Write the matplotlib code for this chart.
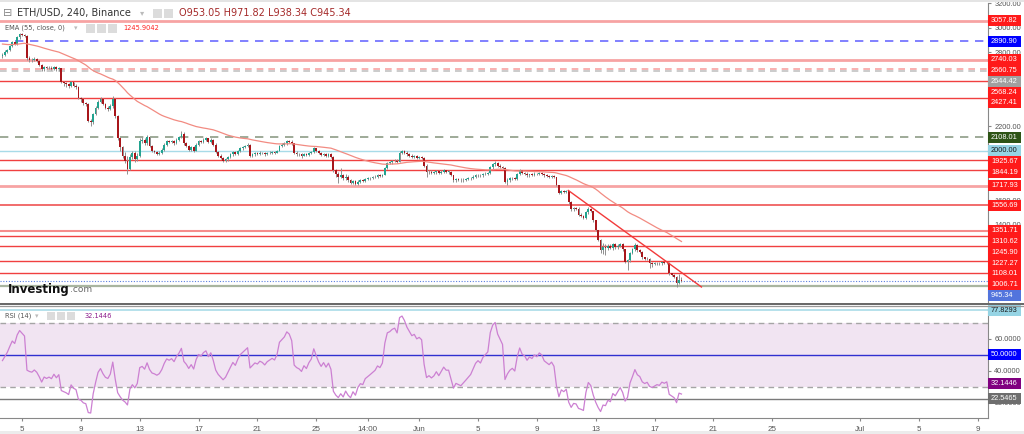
import numpy as np
import matplotlib.pyplot as plt
from matplotlib.patches import Rectangle
from matplotlib.lines import Line2D

# ETH/USD 4h bars (Binance), May 3 16:00 -> Jun 18 20:00
FIRST_OPEN = 2770
CLOSE = [
    2780, 2800,
    2820, 2850, 2880, 2870, 2920, 2950,   # May 4
    2940, 2930, 2750, 2740, 2735, 2745,
    2730, 2700, 2660, 2680, 2670, 2675,
    2665, 2680, 2660, 2670, 2560, 2550,
    2540, 2525, 2555, 2530, 2520, 2430,
    2420, 2390, 2380, 2240, 2230, 2300,   # May 9
    2350, 2400, 2420, 2380, 2350, 2340,
    2360, 2420, 2280, 2100, 2030, 1960,
    1920, 1850, 1950, 1980, 1930, 1960,
    2080, 2090, 2060, 2110, 2040, 2000,
    1990, 1975, 1985, 2010, 2050, 2080,   # May 14
    2070, 2080, 2060, 2090, 2110, 2140,
    2060, 2040, 2010, 2030, 2000, 2050,
    2080, 2070, 2090, 2100, 2070, 2090,
    2050, 1990, 1960, 1940, 1920, 1930,
    1950, 1970, 1990, 1975, 2000, 2020,   # May 19
    2030, 2040, 2050, 1960, 1970, 1980,
    1975, 1985, 1980, 1970, 1980, 1985,
    1990, 1985, 2000, 2040, 2050, 2060,
    2080, 2075, 2060, 1985, 1975, 1970,
    1960, 1975, 1965, 1980, 1990, 2020,   # May 24
    2000, 1980, 1965, 1975, 1960, 1970,
    1950, 1840, 1810, 1790, 1800, 1775,
    1790, 1760, 1740, 1755, 1730, 1750,
    1760, 1755, 1770, 1775, 1780, 1785,
    1790, 1800, 1795, 1805, 1860, 1900,   # May 29
    1905, 1915, 1920, 1910, 1985, 1995,
    1985, 1970, 1960, 1950, 1955, 1945,
    1950, 1945, 1880, 1825, 1830, 1820,   # Jun 1
    1825, 1835, 1820, 1830, 1840, 1830,
    1830, 1800, 1760, 1770, 1765, 1760,
    1765, 1770, 1775, 1780, 1790, 1800,
    1805, 1800, 1810, 1815, 1820, 1865,   # Jun 5
    1890, 1900, 1880, 1870, 1860, 1750,
    1765, 1775, 1780, 1770, 1810, 1840,
    1820, 1815, 1800, 1810, 1805, 1815,
    1810, 1820, 1815, 1800, 1795, 1790,
    1795, 1785, 1720, 1660, 1675, 1665,   # Jun 10
    1670, 1580, 1525, 1535, 1530, 1480,
    1470, 1455, 1500, 1530, 1510, 1435,
    1355, 1275, 1195, 1220, 1210, 1230,
    1210, 1240, 1215, 1230, 1245, 1200,
    1095, 1110, 1170, 1200, 1235, 1195,   # Jun 15
    1180, 1135, 1120, 1125, 1090, 1080,
    1085, 1090, 1085, 1095, 1088, 1092,
    1005, 990, 975, 925, 953.05, 945.34,
]
HIGH = [
    2795, 2815,
    2830, 2860, 2895, 2890, 2930, 2960,
    2955, 2950, 2940, 2770, 2755, 2760,
    2755, 2740, 2705, 2690, 2690, 2685,
    2685, 2690, 2690, 2680, 2675, 2570,
    2560, 2550, 2565, 2560, 2540, 2525,
    2440, 2430, 2400, 2385, 2260, 2310,
    2360, 2410, 2440, 2430, 2390, 2360,
    2380, 2445, 2430, 2290, 2110, 2040,
    1990, 1960, 1970, 2000, 2000, 1980,
    2100, 2110, 2100, 2125, 2115, 2050,
    2010, 1995, 1995, 2020, 2060, 2090,
    2090, 2090, 2085, 2100, 2120, 2160,
    2150, 2070, 2050, 2040, 2040, 2060,
    2090, 2090, 2100, 2115, 2105, 2100,
    2095, 2060, 2000, 1970, 1950, 1940,
    1960, 1980, 2000, 2000, 2010, 2030,
    2040, 2050, 2065, 2055, 1980, 1990,
    1990, 1995, 1990, 1990, 1990, 1995,
    2000, 1995, 2010, 2045, 2060, 2070,
    2090, 2090, 2085, 2065, 1995, 1985,
    1980, 1985, 1980, 1990, 2000, 2030,
    2025, 2010, 1990, 1985, 1980, 1980,
    1980, 1955, 1850, 1830, 1860, 1810,
    1810, 1800, 1770, 1765, 1760, 1760,
    1770, 1770, 1780, 1785, 1790, 1795,
    1800, 1810, 1810, 1815, 1870, 1910,
    1915, 1925, 1930, 1930, 1995, 2010,
    2005, 1995, 1980, 1970, 1965, 1965,
    1960, 1960, 1950, 1890, 1845, 1840,
    1835, 1845, 1840, 1840, 1850, 1845,
    1840, 1835, 1805, 1780, 1780, 1775,
    1775, 1780, 1785, 1790, 1800, 1810,
    1815, 1815, 1820, 1825, 1830, 1875,
    1900, 1915, 1905, 1890, 1880, 1865,
    1775, 1790, 1790, 1790, 1820, 1850,
    1845, 1830, 1825, 1815, 1820, 1825,
    1820, 1830, 1830, 1820, 1810, 1805,
    1805, 1800, 1790, 1725, 1685, 1685,
    1680, 1675, 1590, 1545, 1545, 1540,
    1495, 1480, 1510, 1545, 1535, 1515,
    1440, 1360, 1280, 1250, 1240, 1245,
    1240, 1250, 1250, 1240, 1255, 1250,
    1205, 1120, 1175, 1210, 1250, 1240,
    1200, 1185, 1140, 1135, 1130, 1100,
    1095, 1100, 1095, 1100, 1098, 1100,
    1095, 1010, 1000, 985, 1000, 971.82,
]
LOW = [
    2755, 2770,
    2790, 2810, 2840, 2855, 2860, 2910,
    2930, 2920, 2740, 2720, 2720, 2730,
    2720, 2690, 2645, 2650, 2660, 2660,
    2655, 2655, 2650, 2650, 2550, 2530,
    2520, 2510, 2515, 2520, 2505, 2420,
    2400, 2375, 2365, 2230, 2200, 2220,
    2290, 2340, 2390, 2370, 2340, 2320,
    2330, 2350, 2270, 2090, 2000, 1940,
    1900, 1815, 1840, 1930, 1910, 1920,
    1950, 2060, 2050, 2050, 2030, 1990,
    1980, 1965, 1965, 1975, 2000, 2040,
    2060, 2060, 2050, 2055, 2080, 2100,
    2050, 2030, 2000, 2000, 1990, 1995,
    2040, 2060, 2060, 2080, 2060, 2060,
    2040, 1980, 1950, 1930, 1905, 1910,
    1920, 1940, 1960, 1965, 1965, 1990,
    2010, 2020, 2030, 1950, 1950, 1960,
    1965, 1965, 1970, 1960, 1965, 1970,
    1975, 1975, 1980, 1995, 2030, 2040,
    2050, 2065, 2050, 1975, 1960, 1955,
    1945, 1955, 1955, 1960, 1970, 1985,
    1990, 1970, 1955, 1960, 1950, 1950,
    1940, 1830, 1790, 1740, 1780, 1765,
    1765, 1750, 1730, 1730, 1720, 1725,
    1740, 1745, 1750, 1760, 1765, 1770,
    1775, 1780, 1785, 1785, 1800, 1850,
    1890, 1895, 1905, 1900, 1905, 1975,
    1975, 1960, 1950, 1940, 1940, 1935,
    1935, 1935, 1870, 1790, 1815, 1810,
    1810, 1815, 1810, 1810, 1820, 1820,
    1815, 1795, 1750, 1750, 1755, 1750,
    1750, 1755, 1760, 1765, 1770, 1780,
    1790, 1790, 1790, 1800, 1805, 1815,
    1855, 1880, 1870, 1860, 1850, 1740,
    1725, 1750, 1765, 1760, 1760, 1800,
    1810, 1805, 1790, 1790, 1795, 1795,
    1800, 1800, 1805, 1790, 1785, 1780,
    1780, 1775, 1710, 1650, 1650, 1655,
    1655, 1570, 1515, 1515, 1520, 1470,
    1460, 1445, 1445, 1490, 1500, 1425,
    1345, 1265, 1170, 1160, 1150, 1195,
    1200, 1195, 1200, 1205, 1220, 1190,
    1085, 1030, 1100, 1160, 1190, 1180,
    1170, 1125, 1110, 1110, 1050, 1060,
    1070, 1075, 1075, 1075, 1080, 1080,
    995, 980, 965, 892, 920, 938.34,
]

EMA_SEED = 2870           # EMA(55) just before the first visible bar
RSI_SEED = (14.0, 17.0)   # Wilder avg gain / avg loss before the first bar

# horizontal levels drawn on the price pane
LEVELS = [3057.82, 2890.90, 2740.03, 2660.75, 2644.42, 2568.24, 2427.41, 2108.01,
          2000.00, 1925.67, 1844.19, 1717.93, 1556.69, 1351.71, 1310.62, 1227.27,
          1108.01, 1006.71, 904.0]
TREND_DAYS = [42.14, 51.19]
TREND_PRICES = [1678, 894]

EMA_LAST = 1245.90
RSI_LAST = 32.1446
RSI_LEVELS = [77.8293, 50.0, 22.5465]

PRICE_TICKS = [1400, 1600, 2200, 2800, 3000, 3200]
RSI_TICKS = [20, 40, 60]
TICK_DAYS = [5, 9, 13, 17, 21, 25, 28.5, 32, 36, 40, 44, 48, 52, 56, 62, 66, 70]
TICK_TEXT = ['5', '9', '13', '17', '21', '25', '14:00', 'Jun', '5', '9', '13', '17',
             '21', '25', 'Jul', '5', '9']

# ---- styles ----
RED = '#f04040'
PINK = '#f7a3a3'
LEVEL_STYLE = [
    (PINK, '-', 2.0), ('#6b6bff', (0, (5, 4)), 1.2), (PINK, '-', 2.0),
    (PINK, (0, (4, 3)), 1.2), ('#c2c2c2', (0, (4, 3)), 1.2), (RED, '-', 1.0),
    (RED, '-', 1.0), ('#8e9c86', (0, (5, 4)), 1.2), ('#a8dbe8', '-', 1.0),
    (RED, '-', 1.0), (RED, '-', 1.0), (PINK, '-', 2.0), ('#f06060', '-', 1.3),
    ('#f58c8c', '-', 1.5), (RED, '-', 1.0), (RED, '-', 1.0), (RED, '-', 1.0),
    (RED, '-', 1.0), ('#a9b5a0', '-', 1.6),
]
BOX_RED = '#ff1a1a'
LEVEL_BOX = [BOX_RED, '#0000ff', BOX_RED, BOX_RED, '#a0a0a0', BOX_RED, BOX_RED,
             '#2e5416', '#96d4e4', BOX_RED, BOX_RED, BOX_RED, BOX_RED, BOX_RED,
             BOX_RED, BOX_RED, BOX_RED, BOX_RED, None]
UP, DOWN, WICK = '#22a38f', '#a8161b', '#8f8f8f'

W, H = 1024, 434
fig = plt.figure(figsize=(W / 100, H / 100), dpi=100)
fig.patch.set_facecolor('white')


def fx(px):
    return px / W


def fy(py):
    return 1 - py / H


PX_PER_DAY = 14.708
X0 = 3.5
ax = fig.add_axes([0, fy(302), fx(988), fy(3) - fy(302)])
ax_rsi = fig.add_axes([0, fy(418), fx(988), fy(307) - fy(418)])
for a in (ax, ax_rsi):
    a.set_xlim(X0, X0 + 988 / PX_PER_DAY)
    a.set_facecolor('white')
ax.set_ylim(772, 3191)
ax_rsi.set_ylim(10.6, 80)

# ---- candles ----
close = np.array(CLOSE, dtype=float)
opens = np.concatenate([[FIRST_OPEN], close[:-1]])
t = 3 + 16 / 24 + np.arange(len(close)) / 6
up = close >= opens
ax.vlines(t, LOW, HIGH, color=WICK, lw=0.7, zorder=3)
ax.bar(t, np.maximum(np.abs(close - opens), 4), bottom=np.minimum(opens, close),
       width=0.12, color=np.where(up, UP, DOWN), lw=0, zorder=4)

# EMA 55
alpha = 2 / 56
ema, e = [], EMA_SEED
for c in close:
    e += alpha * (c - e)
    ema.append(e)
ax.plot(t, ema, color='#f28b82', lw=0.9, zorder=5)

# RSI 14 (Wilder)
ag, al = RSI_SEED
rsi, prev = [], FIRST_OPEN
for c in close:
    d = c - prev
    ag = (ag * 13 + max(d, 0)) / 14
    al = (al * 13 + max(-d, 0)) / 14
    rsi.append(100 - 100 / (1 + ag / al))
    prev = c

# levels + trend line
for v, (col, ls, lw) in zip(LEVELS, LEVEL_STYLE):
    ax.axhline(v, color=col, ls=ls, lw=lw, zorder=2)
ax.axhline(close[-1], color='#5b7fe0', ls=(0, (1, 1.5)), lw=0.8, zorder=2)
ax.plot(TREND_DAYS, TREND_PRICES, color='#f23a3a', lw=1.0, zorder=5)

# ---- RSI pane ----
ax_rsi.axhspan(30, 70, color='#f1e4f2', lw=0, zorder=1)
for v in (70, 30):
    ax_rsi.axhline(v, color='#a5a5a5', ls=(0, (4, 3)), lw=1.0, zorder=2)
ax_rsi.axhline(RSI_LEVELS[0], color='#a9dce8', lw=1.2, zorder=2)
ax_rsi.axhline(RSI_LEVELS[1], color='#3030d0', lw=1.0, zorder=2)
ax_rsi.axhline(RSI_LEVELS[2], color='#7a7a7a', lw=1.0, zorder=2)
ax_rsi.plot(t, rsi, color='#cc80d2', lw=0.9, zorder=3)

# ---- axes cosmetics ----
tick_font = dict(family='Liberation Sans', size=5.3)
for a in (ax, ax_rsi):
    for s in ('top', 'left'):
        a.spines[s].set_visible(False)
    a.spines['right'].set_color('#888888')
    a.yaxis.tick_right()
    a.tick_params(axis='y', length=2.5, pad=2, colors='#888888', labelcolor='#555555')
ax.spines['bottom'].set_visible(False)
ax.set_xticks([])
ax.set_yticks(PRICE_TICKS)
ax.set_yticklabels([f'{v:.2f}' for v in PRICE_TICKS], fontdict=tick_font)
ax_rsi.set_yticks(RSI_TICKS)
ax_rsi.set_yticklabels([f'{v:.4f}' for v in RSI_TICKS], fontdict=tick_font)
ax_rsi.spines['bottom'].set_color('#888888')
ax_rsi.set_xticks(TICK_DAYS)
ax_rsi.set_xticklabels(TICK_TEXT, fontdict=dict(family='Liberation Sans', size=5.8))
ax_rsi.tick_params(axis='x', length=2.5, pad=3, colors='#888888', labelcolor='#555555')


def axis_boxes(a, items, gap=10.8, h=11):
    last = None
    for value, text, face, ink in sorted(items, key=lambda it: -it[0]):
        yd = a.transData.transform((X0, value))[1]
        if last is not None and yd > last - gap:
            yd = last - gap
        last = yd
        fig.add_artist(Rectangle((fx(988), (yd - h / 2) / H), 33 / W, h / H,
                                 transform=fig.transFigure, facecolor=face,
                                 edgecolor='none', zorder=2))
        fig.text(fx(991), yd / H, text, color=ink, va='center', ha='left',
                 zorder=3, **tick_font)


items = [(v, f'{v:.2f}', c, '#1a1a1a' if c == '#96d4e4' else 'white')
         for v, c in zip(LEVELS, LEVEL_BOX) if c]
items.append((EMA_LAST, f'{EMA_LAST:.2f}', BOX_RED, 'white'))
items.append((close[-1], f'{close[-1]:.2f}', '#5274dd', 'white'))
axis_boxes(ax, items)
axis_boxes(ax_rsi, [(RSI_LEVELS[0], f'{RSI_LEVELS[0]:.4f}', '#96d4e4', '#1a1a1a'),
                    (RSI_LEVELS[1], f'{RSI_LEVELS[1]:.4f}', '#0000ff', 'white'),
                    (RSI_LAST, f'{RSI_LAST:.4f}', '#800080', 'white'),
                    (RSI_LEVELS[2], f'{RSI_LEVELS[2]:.4f}', '#6e6e6e', 'white')])

# ---- frame bits: separators, bands ----
fig.add_artist(Rectangle((0, fy(2)), 1, 2 / H, transform=fig.transFigure,
                         facecolor='#e4e4e4', edgecolor='none'))
fig.add_artist(Rectangle((0, 0), 1, 3 / H, transform=fig.transFigure,
                         facecolor='#ececec', edgecolor='none'))
fig.add_artist(Line2D([0, 1], [fy(303.8)] * 2, transform=fig.transFigure,
                      color='#666666', lw=1.4, zorder=4))
fig.add_artist(Line2D([0, 1], [fy(306.3)] * 2, transform=fig.transFigure,
                      color='#999999', lw=0.9, zorder=4))


def icons(x, y, n, size=8):
    for i in range(n):
        fig.add_artist(Rectangle((fx(x + i * (size + 2)), fy(y + size / 2)), size / W,
                                 size / H, transform=fig.transFigure,
                                 facecolor='#dcdcdc', edgecolor='none'))


# ---- legends ----
fig.text(fx(3), fy(13), '\u229f', fontsize=8, color='#888888', va='center')
fig.text(fx(17), fy(13), 'ETH/USD, 240, Binance', fontsize=7, color='#333333',
         va='center')
fig.text(fx(140), fy(13), '\u25be', fontsize=6, color='#bbbbbb', va='center')
icons(153, 13, 2, 9)
fig.text(fx(179), fy(13), 'O953.05 H971.82 L938.34 C945.34', fontsize=7,
         color='#a52a2a', va='center')

fig.text(fx(5), fy(28), 'EMA (55, close, 0)', fontsize=4.8, color='#555555',
         va='center')
fig.text(fx(74), fy(28), '\u25be', fontsize=5, color='#bbbbbb', va='center')
icons(86, 28, 3, 9)
fig.text(fx(123), fy(28), '1245.9042', fontsize=4.8, color='#ff2020', va='center')

fig.text(fx(5), fy(316), 'RSI (14)', fontsize=4.8, color='#555555', va='center')
fig.text(fx(35), fy(316), '\u25be', fontsize=5, color='#bbbbbb', va='center')
icons(47, 316, 3, 8)
fig.text(fx(85), fy(316), '32.1446', fontsize=4.8, color='#8b1a8b', va='center')

# watermark
fig.text(fx(8), fy(289), 'Investing', fontsize=8.5, fontweight='bold',
         color='#111111', va='center')
fig.text(fx(70), fy(290), '.com', fontsize=6.5, color='#666666', va='center')

fig.savefig('out.png', dpi=100, facecolor='white')
